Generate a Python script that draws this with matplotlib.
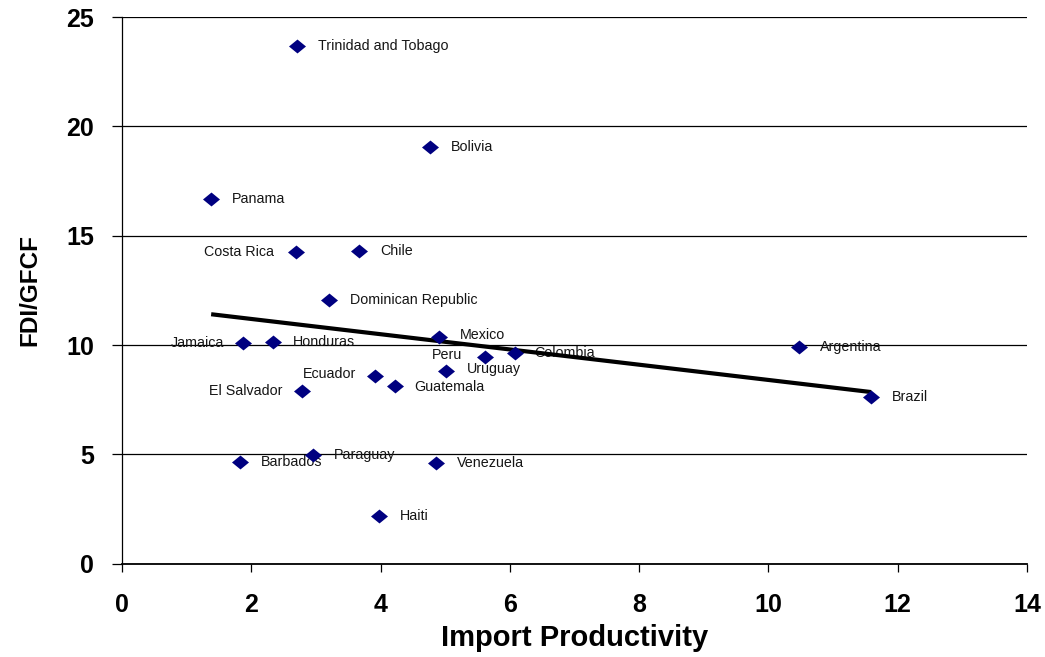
import numpy as np
import matplotlib
matplotlib.use("Agg")
from matplotlib import pyplot as plt

plt.rcParams['font.family'] = ['Liberation Sans', 'DejaVu Sans']

# data
countries = ['Trinidad and Tobago', 'Bolivia', 'Panama', 'Costa Rica', 'Chile',
             'Dominican Republic', 'Mexico', 'Jamaica', 'Honduras', 'Peru',
             'Colombia', 'Argentina', 'Uruguay', 'Ecuador', 'Guatemala',
             'El Salvador', 'Brazil', 'Paraguay', 'Barbados', 'Venezuela', 'Haiti']
import_prod = [2.71, 4.77, 1.38, 2.70, 3.67,
               3.21, 4.91, 1.88, 2.34, 5.61,
               6.08, 10.47, 5.01, 3.92, 4.22,
               2.78, 11.59, 2.95, 1.82, 4.86, 3.97]
fdi_gfcf = [23.68, 19.05, 16.67, 14.24, 14.28,
            12.06, 10.39, 10.09, 10.16, 9.47,
            9.63, 9.89, 8.82, 8.59, 8.14,
            7.91, 7.62, 4.99, 4.64, 4.61, 2.17]
# label offsets in points (dx, dy) and alignment
label_pos = {
    'Trinidad and Tobago': (15, 0, 'left'),
    'Bolivia': (15, 0, 'left'),
    'Panama': (15, 0, 'left'),
    'Costa Rica': (-16, 0, 'right'),
    'Chile': (15, 0, 'left'),
    'Dominican Republic': (15, 0, 'left'),
    'Mexico': (15, 1, 'left'),
    'Jamaica': (-14, 0, 'right'),
    'Honduras': (14, 0, 'left'),
    'Peru': (-16, 1, 'right'),
    'Colombia': (14, 0, 'left'),
    'Argentina': (15, 0, 'left'),
    'Uruguay': (15, 1, 'left'),
    'Ecuador': (-14, 1, 'right'),
    'Guatemala': (14, -1, 'left'),
    'El Salvador': (-14, 0, 'right'),
    'Brazil': (15, 0, 'left'),
    'Paraguay': (15, 0, 'left'),
    'Barbados': (15, 0, 'left'),
    'Venezuela': (15, 0, 'left'),
    'Haiti': (15, 0, 'left'),
}
trend_x = [1.38, 11.59]
trend_y = [11.41, 7.85]

# slightly flattened diamond like the original Excel marker
diamond = [(-1, 0), (0, 0.82), (1, 0), (0, -0.82), (-1, 0)]

fig = plt.figure(figsize=(10.45, 6.57), dpi=100)
ax = fig.add_axes([0.1167, 0.142, 0.866, 0.832])

ax.set_xlim(0, 14)
ax.set_ylim(0, 25)
ax.set_yticks(np.arange(0, 26, 5))
ax.set_xticks(np.arange(0, 15, 2))
ax.yaxis.grid(True, color='black', linewidth=0.9)
ax.set_axisbelow(True)

for name, x, y in zip(countries, import_prod, fdi_gfcf):
    dx, dy, ha = label_pos[name]
    ax.annotate(name, (x, y), xytext=(dx, dy), textcoords='offset points',
                ha=ha, va='center', fontsize=10.3, color='#151515', zorder=1)

ax.plot(trend_x, trend_y, color='black', linewidth=3, solid_capstyle='butt', zorder=2)
ax.scatter(import_prod, fdi_gfcf, marker=diamond, s=150, color='#000080', zorder=3, linewidths=0)

for s in ['top', 'right']:
    ax.spines[s].set_visible(False)
ax.spines['left'].set_linewidth(0.9)
ax.spines['bottom'].set_linewidth(1.3)
ax.tick_params(axis='y', length=7, width=0.9, labelsize=18, pad=13)
ax.tick_params(axis='x', length=6, width=0.9, labelsize=18, pad=15)
for lab in ax.get_xticklabels() + ax.get_yticklabels():
    lab.set_fontweight('bold')

ax.set_xlabel('Import Productivity', fontsize=21, fontweight='bold', labelpad=5)
ax.set_ylabel('FDI/GFCF', fontsize=17.5, fontweight='bold', labelpad=18)

fig.savefig('out.png', dpi=100)
